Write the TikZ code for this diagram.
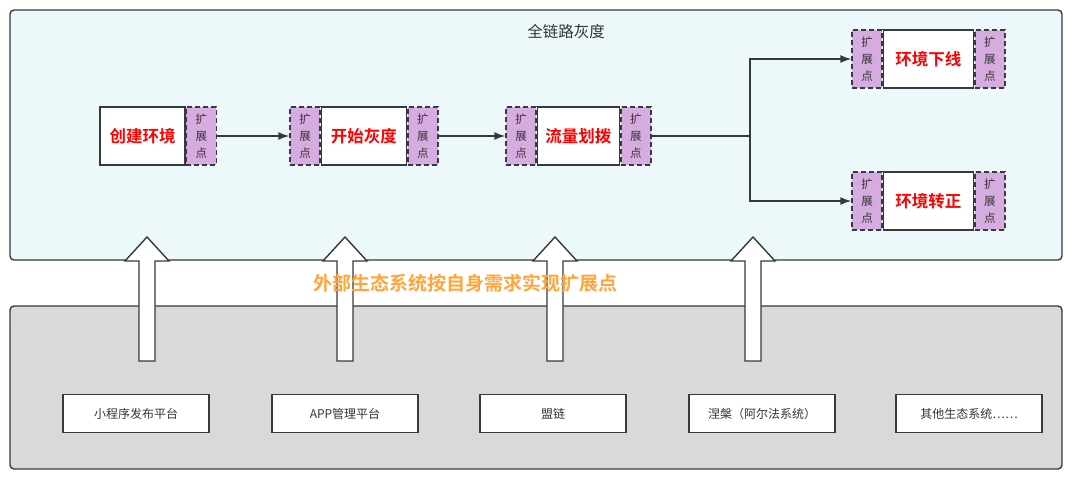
\documentclass[tikz,border=0pt]{standalone}
\usepackage{fontspec}
\setmainfont{Noto Sans CJK SC}[BoldFont={Noto Sans CJK SC Bold}]
\usetikzlibrary{positioning,arrows.meta}
\definecolor{panelblue}{HTML}{EDF8FA}
\definecolor{panelgray}{HTML}{D9D9D9}
\definecolor{extpurple}{HTML}{D6ABDF}
\definecolor{linegray}{HTML}{36393D}
\definecolor{labelorange}{HTML}{FFA53C}
\definecolor{textgray}{HTML}{333333}
\tikzset{
  stagebox/.style={draw=linegray, line width=1.4pt, fill=white, minimum width=85pt,
    minimum height=58pt, inner sep=0pt, text=red, font=\fontsize{16.5}{18}\selectfont\bfseries},
  extbox/.style={draw=linegray, line width=1.4pt, dash pattern=on 5pt off 3pt, fill=extpurple,
    minimum width=30pt, minimum height=58pt, inner sep=0pt, align=center, text=textgray,
    font=\fontsize{11.5}{17}\selectfont},
  sysbox/.style={draw=linegray, line width=1.4pt, fill=white, minimum width=146pt,
    minimum height=38pt, inner sep=0pt, text=textgray, font=\fontsize{12}{14}\selectfont},
  flow/.style={draw=linegray, line width=1.4pt}
}
\begin{document}
\begin{tikzpicture}[x=1pt, y=-1pt, >={Latex[length=11pt,width=8pt]}]
\useasboundingbox (0,0) rectangle (1080,479);

% panels
\draw[linegray, line width=1.4pt, fill=panelblue, rounded corners=4pt] (10,10) rectangle (1062,260);
\draw[linegray, line width=1.4pt, fill=panelgray, rounded corners=4pt] (10,306) rectangle (1062,469);
\node[font=\fontsize{15.5}{18}\selectfont, text=textgray] (title) at (566,32) {全链路灰度};

% chain
\node[stagebox] (create) at (142.5,136) {创建环境};
\node[extbox, right=0pt of create] (createR) {扩\\展\\点};

\node[extbox] (startL) at (305,136) {扩\\展\\点};
\node[stagebox, right=0pt of startL] (start) {开始灰度};
\node[extbox, right=0pt of start] (startR) {扩\\展\\点};

\node[extbox] (flowL) at (521,136) {扩\\展\\点};
\node[stagebox, minimum width=82pt, right=0pt of flowL] (split flow) {流量划拨};
\node[extbox, right=0pt of split flow] (flowR) {扩\\展\\点};

\node[extbox] (offL) at (867,59) {扩\\展\\点};
\node[stagebox, minimum width=90pt, right=0pt of offL] (off) {环境下线};
\node[extbox, right=0pt of off] (offR) {扩\\展\\点};

\node[extbox] (formalL) at (867,201) {扩\\展\\点};
\node[stagebox, minimum width=90pt, right=0pt of formalL] (formal) {环境转正};
\node[extbox, right=0pt of formal] (formalR) {扩\\展\\点};

\coordinate (split) at (750,136);
\draw[flow, ->] (createR) -- (startL);
\draw[flow, ->] (startR) -- (flowL);
\draw[flow] (flowR) -- (split);
\draw[flow, ->] (split) |- (offL);
\draw[flow, ->] (split) |- (formalL);

% block arrows
\foreach \x in {147,345,555,753}
{
    \draw[linegray, line width=1.4pt, fill=white] (\x-8,361) -- (\x-8,261) -- (\x-22,261)
      -- (\x,237) -- (\x+22,261) -- (\x+8,261) -- (\x+8,361) -- cycle;
}

% external systems
\node[sysbox] (mini) at (136,413.5) {小程序发布平台};
\node[sysbox] (app) at (345,413.5) {APP管理平台};
\node[sysbox] (chain) at (553,413.5) {盟链};
\node[sysbox] (alpha) at (762,413.5) {涅槃（阿尔法系统）};
\node[sysbox] (other) at (969,413.5) {其他生态系统……};

\node[font=\fontsize{19}{21}\selectfont\bfseries, text=labelorange] (hint) at (465,283) {外部生态系统按自身需求实现扩展点};
\end{tikzpicture}
\end{document}
